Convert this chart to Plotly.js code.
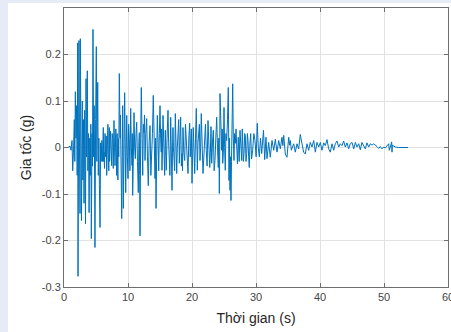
<!DOCTYPE html>
<html>
<head>
<meta charset="utf-8">
<script src="https://cdn.plot.ly/plotly-3.0.1.min.js"></script>
<style>
html,body{margin:0;padding:0;background:#e7ebf6;width:451px;height:332px;overflow:hidden;}
#chart{position:absolute;left:8px;top:3px;width:443px;height:329px;background:#fff;}
</style>
</head>
<body>
<div id="chart"></div>
<script>
// Values: time (s) and acceleration (g), in three segments
const timeA = [
0,0.62,0.94,1.09,1.25,1.36,1.48,1.61,1.69,1.77,
1.88,1.97,2.06,2.14,2.19,2.27,2.34,2.42,2.5,2.55,
2.64,2.73,2.86,2.95,3.05,3.13,3.22,3.3,3.36,3.44,
3.52,3.64,3.73,3.83,3.92,4.02,4.11,4.19,4.27,4.38,
4.45,4.53,4.63,4.72,4.84,4.94,5.05,5.13,5.27,5.36,
5.45,5.53,5.63,5.72,5.81,5.91];
const accelA = [
0,0,0.003,-0.006,0.015,-0.05,-0.01,0.06,-0.03,0.12,
0.02,0.09,-0.06,0.225,-0.277,0.1,0.23,0.0,-0.142,0.234,
-0.05,-0.157,0.1,-0.07,0.06,-0.12,0.08,-0.03,-0.164,0.148,
-0.02,0.165,-0.05,0.03,-0.14,0.02,-0.06,0.05,-0.196,0.03,
-0.04,0.254,-0.02,0.09,-0.215,0.06,0.217,-0.03,0.14,-0.06,
0.02,-0.08,-0.172,0.01,-0.03,0.015];

const timeB = [
6.02,6.08,6.14,6.2,6.25,6.33,6.41,6.47,6.52,6.6,
6.67,6.74,6.8,6.86,6.92,7.0,7.08,7.13,7.19,7.27,
7.34,7.4,7.45,7.53,7.61,7.7,7.81,7.89,7.97,8.1,
8.23,8.3,8.36,8.42,8.48,8.56,8.64,8.7,8.77,8.82,
8.86,8.94,9.02,9.1,9.17,9.22,9.27,9.38,9.48,9.56,
9.64,9.72,9.8,9.9,10,10.1,10.2,10.3,10.42,10.52,
10.63,10.68,10.73,10.84,10.94,11.04,11.14,11.25,11.36,11.48,
11.61,11.7,11.77,11.82,11.88,11.98,12.08,12.2,12.3,12.4,
12.5,12.58,12.66,12.78,12.92,13.04,13.17,13.3,13.44,13.57,
13.7,13.82,13.95,14.08,14.22,14.3,14.38,14.48,14.58,14.7,
14.8,14.9,15,15.1,15.19,15.25,15.31,15.39,15.47,15.55,
15.63,15.73,15.83,15.9,15.98,16.1,16.25,16.35,16.45,16.55,
16.67,16.78,16.88,16.95,17.03,17.1,17.19,17.29,17.39,17.5,
17.61,17.71,17.81,17.92,18.02,18.12,18.23,18.34,18.44,18.52,
18.59,18.72,18.86,18.98,19.11,19.25,19.38,19.5,19.64,19.72,
19.8,19.9,20,20.1,20.2,20.3,20.42,20.55,20.67,20.75,
20.83,20.94,21.05,21.15,21.25,21.35,21.45,21.6,21.72,21.85,
21.98,22.1,22.23,22.36,22.5,22.63,22.77,22.87,22.97,23.02,
23.08,23.2,23.33,23.46,23.59,23.72,23.86,23.98,24.11,24.19,
24.27,24.33,24.38,24.5,24.64,24.72,24.8,24.9,25,25.1,
25.2,25.3,25.42,25.55,25.67,25.72,25.78,25.86,25.94,26.02,
26.09,26.17,26.25,26.36,26.46,26.56,26.66,26.77,26.88,26.98];
const accelB = [
-0.03,0.01,0.043,-0.03,-0.01,-0.045,0.03,0.0,-0.02,0.025,
-0.06,0.04,0.02,0.05,-0.015,-0.05,0.043,-0.03,-0.002,0.035,
-0.02,0.01,-0.039,0.03,0.019,-0.045,0.058,0.0,-0.039,0.04,
-0.06,0.03,-0.01,-0.07,0.019,-0.02,0.159,0.06,0.02,0.07,
-0.024,0.03,-0.153,-0.02,0.09,0.0,-0.131,0.02,0.118,0.01,
-0.097,-0.01,0.069,-0.02,-0.067,0.05,0.019,-0.05,0.084,0.0,
-0.039,0.03,-0.103,-0.02,0.075,0.0,-0.024,0.03,0.054,-0.03,
-0.097,0.01,0.032,-0.06,-0.19,0.02,0.129,0.02,-0.06,0.05,
0.032,0.07,-0.028,0.03,0.062,-0.02,-0.082,0.01,0.047,-0.06,
-0.028,0.03,0.112,-0.01,-0.067,0.02,-0.131,-0.02,0.069,0.01,
-0.05,0.03,0.09,0.02,-0.01,0.04,-0.049,0.0,0.069,0.02,
-0.006,-0.06,0.037,0.0,-0.049,0.02,0.08,0.01,-0.02,-0.06,
0.065,0.01,-0.092,-0.01,0.043,0.0,-0.02,-0.05,0.073,0.0,
-0.056,0.0,0.037,0.06,-0.034,0.01,0.065,-0.04,-0.013,-0.05,
0.043,-0.01,-0.028,0.05,0.022,-0.03,-0.056,0.02,0.052,-0.02,
0.009,0.04,-0.077,-0.02,0.043,0.0,-0.056,0.02,0.084,0.02,
-0.049,0.01,0.03,0.05,-0.028,0.0,0.073,0.0,-0.056,-0.02,
0.022,0.05,-0.006,-0.04,0.058,0.0,-0.043,-0.01,0.045,0.0,
-0.034,0.01,0.037,-0.05,-0.028,0.02,0.065,0.0,-0.043,0.02,
-0.099,-0.02,0.116,0.02,-0.006,0.04,-0.034,-0.01,0.086,0.0,
-0.049,0.03,0.015,0.06,0.129,0.04,-0.071,0.02,-0.092,-0.02,
-0.114,-0.03,0.03,0.137,0.02,-0.028,0.03,0.009,0.04,-0.02];

const timeC = [
27.1,27.23,27.37,27.5,27.64,27.77,27.85,27.92,28.03,28.13,
28.23,28.33,28.44,28.55,28.65,28.75,28.85,28.95,29.06,29.17,
29.3,29.48,29.66,29.84,30.02,30.2,30.36,30.52,30.7,30.89,
31.17,31.36,31.56,31.72,31.98,32.23,32.5,32.77,33.02,33.28,
33.55,33.8,34.06,34.2,34.33,34.58,34.84,34.97,35.11,35.25,
35.36,35.52,35.89,36.14,36.41,36.67,36.92,37.19,37.45,37.7,
37.97,38.23,38.48,38.75,39.02,39.27,39.53,39.8,40.05,40.31,
40.58,40.83,41.09,41.36,41.61,41.88,42.14,42.39,42.66,42.92,
43.17,43.44,43.7,43.95,44.22,44.48,44.73,45,45.27,45.52,
45.78,46.05,46.3,46.56,46.83,47.08,47.34,47.61,47.86,48.13,
48.39,48.64,48.91,49.17,49.42,49.69,49.95,50.2,50.47,50.73,
50.83,51,51.2,51.25,51.3,51.77,52.3,53.75];
const accelC = [
-0.035,0.022,-0.03,0.037,-0.01,-0.028,0.04,0.022,-0.03,-0.013,
0.03,0.026,-0.03,-0.013,0.03,0.015,-0.02,-0.043,0.01,0.03,
-0.025,-0.006,0.03,0.015,-0.02,0.052,0.0,-0.02,0.02,-0.013,
0.037,-0.026,0.022,-0.024,0.011,-0.021,0.015,-0.006,0.018,-0.01,
0.015,-0.003,0.022,0.004,0.026,-0.014,-0.021,0.0,0.022,0.005,
0.015,-0.006,0.008,-0.01,0.008,-0.003,0.028,0.008,-0.01,-0.014,
0.008,-0.006,0.011,0.001,0.015,-0.01,0.011,0.001,0.011,-0.006,
0.01,0.004,0.017,-0.003,-0.01,0.008,-0.006,0.008,0.014,0.001,
0.008,0.004,0.014,0.001,0.01,-0.003,0.008,0.011,-0.003,0.011,
0.001,0.008,-0.005,0.011,0.004,-0.003,0.01,0.001,0.008,0.005,
0.008,0.004,0.002,-0.002,0.002,-0.003,0.001,-0.001,0.004,0.008,
-0.006,0.001,0.012,-0.01,0.005,0.001,0,0];

const xTickVals = [0,10,20,30,40,50,60];
const xTickText = ['0','10','20','30','40','50','60'];
const yTickVals = [-0.3,-0.2,-0.1,0,0.1,0.2];
const yTickText = ['-0.3','-0.2','-0.1','0','0.1','0.2'];

const timeS = timeA.concat(timeB, timeC);
const accelG = accelA.concat(accelB, accelC);

const fontFam = 'Liberation Sans, Arial, Helvetica, sans-serif';
const axisCommon = {
  showgrid:true, gridcolor:'#e2e2e2', gridwidth:1,
  zeroline:false, showline:true, linecolor:'#6e6e6e', linewidth:1,
  mirror:'allticks', ticks:'inside', ticklen:4, tickcolor:'#6e6e6e', tickwidth:1,
  tickfont:{family:fontFam, size:11, color:'#454545'},
  ticklabeloverflow:'allow',
  fixedrange:true
};
const layout = {
  width:443, height:329,
  margin:{l:56, r:3, t:5, b:45},
  paper_bgcolor:'#ffffff', plot_bgcolor:'#ffffff',
  showlegend:false,
  xaxis:Object.assign({}, axisCommon, {
    range:[0,60], tickmode:'array', tickvals:xTickVals, ticktext:xTickText,
    title:{text:'Thời gian (s)', font:{family:fontFam, size:14, color:'#262626'}, standoff:10}
  }),
  yaxis:Object.assign({}, axisCommon, {
    range:[-0.3,0.3], tickmode:'array', tickvals:yTickVals, ticktext:yTickText,
    title:{text:'Gia tốc (g)', font:{family:fontFam, size:14, color:'#262626'}, standoff:6}
  })
};
Plotly.newPlot('chart', [{
  x: timeS, y: accelG, type:'scatter', mode:'lines',
  line:{color:'#0072BD', width:1}, hoverinfo:'skip'
}], layout, {staticPlot:true, displayModeBar:false});
</script>
</body>
</html>
